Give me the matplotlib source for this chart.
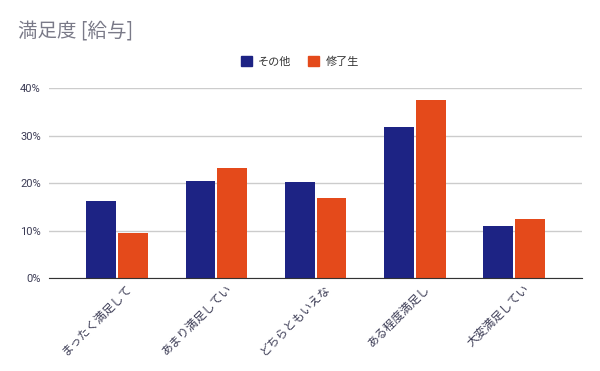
import matplotlib
matplotlib.use("Agg")
import matplotlib.pyplot as plt
import matplotlib.patches as mpatches
import matplotlib.transforms as mtransforms
import numpy as np
from matplotlib.ticker import PercentFormatter

plt.rcParams['font.family'] = ['Noto Sans CJK JP', 'DejaVu Sans']

# data
categories = ["まったく満足して", "あまり満足してい", "どちらともいえな", "ある程度満足し", "大変満足してい"]
sonota = [16.3, 20.5, 20.3, 31.8, 11.0]
shuryo = [9.5, 23.2, 16.9, 37.5, 12.5]
series_names = ["その他", "修了生"]
colors = ["#1d2384", "#e44a1b"]

fig = plt.figure(figsize=(6, 3.71), dpi=100)
ax = fig.add_axes([0.082, 0.25, 0.888, 0.512])

x = np.arange(len(categories))
w = 0.30
ax.bar(x - w / 2 - 0.01, sonota, w, color=colors[0], zorder=3)
ax.bar(x + w / 2 + 0.01, shuryo, w, color=colors[1], zorder=3)

ax.set_xlim(-0.685, len(categories) - 1 + 0.685)
ax.set_ylim(0, 40)
ax.set_yticks([0, 10, 20, 30, 40])
ax.yaxis.set_major_formatter(PercentFormatter(decimals=0))
ax.grid(axis="y", color="#cccccc", linewidth=1, zorder=0)
for s in ["top", "right", "left"]:
    ax.spines[s].set_visible(False)
ax.spines["bottom"].set_color("#333333")
ax.spines["bottom"].set_zorder(4)
ax.tick_params(axis="both", length=0, labelsize=8, labelcolor="#3c3c55")
ax.tick_params(axis="y", pad=6)
ax.set_xticks(x)
ax.set_xticklabels(categories, rotation=45, ha="right", rotation_mode="anchor", fontsize=8.5)
# shift the slanted labels a bit to the right, like the original
shift = mtransforms.ScaledTranslation(0.085, 0.01, fig.dpi_scale_trans)
for lbl in ax.get_xticklabels():
    lbl.set_transform(lbl.get_transform() + shift)
for lbl in ax.get_yticklabels():
    lbl.set_family(["Roboto", "DejaVu Sans"])

fig.text(0.03, 0.915, "満足度 [給与]", fontsize=14, color="#7a7a88", va="center", ha="left")

handles = [mpatches.Patch(color=c, label=n) for c, n in zip(colors, series_names)]
fig.legend(handles=handles, loc="center", bbox_to_anchor=(0.5, 0.835), ncol=2, frameon=False,
           fontsize=8, handlelength=1.0, handleheight=1.0, handletextpad=0.6, columnspacing=1.5,
           labelcolor="#333333")

fig.savefig("out.png", dpi=100)
